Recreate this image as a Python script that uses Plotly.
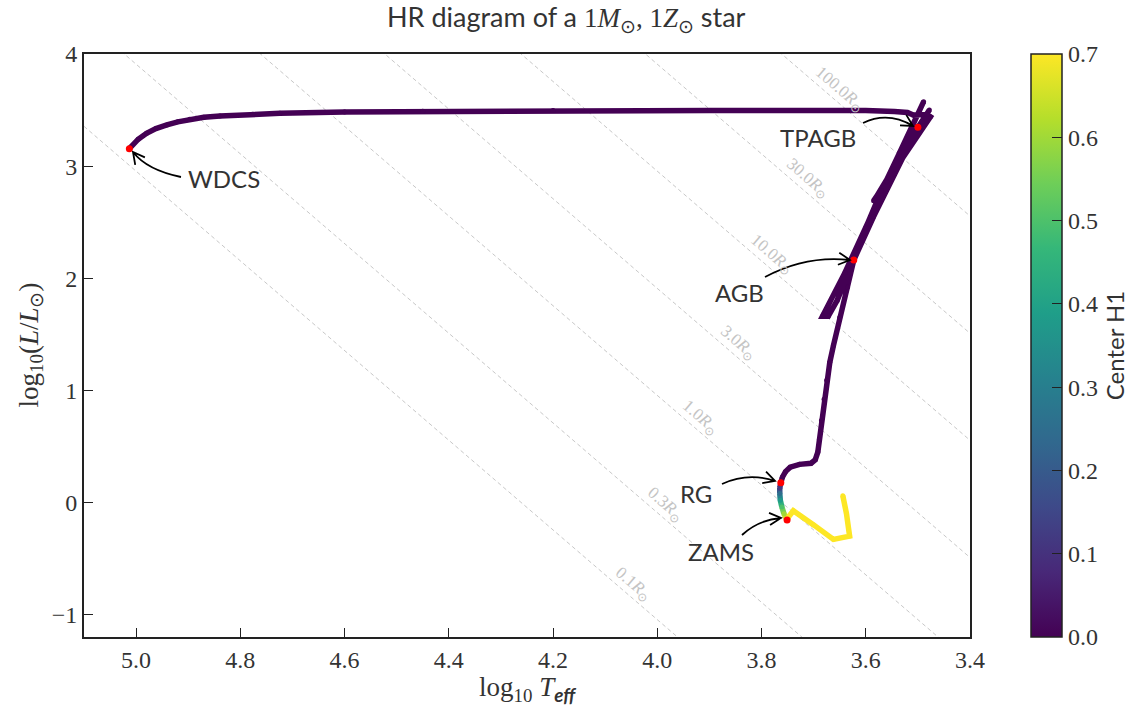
import numpy as np
import plotly.graph_objects as go
from plotly.colors import sample_colorscale

# ---------------- data ----------------
log_teff = [3.644, 3.637, 3.631, 3.662, 3.700, 3.739, 3.748, 3.751,
            3.757, 3.761, 3.764, 3.765, 3.765, 3.763,
            3.760, 3.754, 3.745, 3.727, 3.705, 3.697, 3.692, 3.689, 3.685, 3.680,
            3.675, 3.669, 3.662, 3.650, 3.635, 3.623, 3.600, 3.570, 3.535, 3.510, 3.489,
            3.560, 3.640, 3.683, 3.672, 3.655, 3.623, 3.585, 3.545, 3.500, 3.478,
            3.492, 3.583, 3.585, 3.476, 3.483, 3.509,
            3.520, 3.545, 3.600, 3.900, 4.200, 4.450, 4.600, 4.724, 4.776, 4.839,
            4.870, 4.897, 4.920, 4.941, 4.962, 4.980, 4.996, 5.013]
log_L = [0.060, -0.100, -0.300, -0.329, -0.200, -0.074, -0.127, -0.157,
         -0.100, -0.040, 0.020, 0.080, 0.130, 0.176,
         0.225, 0.275, 0.315, 0.340, 0.350, 0.380, 0.450, 0.560, 0.730, 0.920,
         1.090, 1.250, 1.400, 1.650, 1.920, 2.162, 2.450, 2.780, 3.120, 3.370, 3.575,
         2.860, 2.050, 1.660, 1.660, 1.800, 2.162, 2.550, 2.930, 3.346, 3.500,
         3.400, 2.700, 2.690, 3.440, 3.460, 3.455,
         3.478, 3.488, 3.496, 3.497, 3.495, 3.490, 3.482, 3.471, 3.463, 3.447,
         3.435, 3.417, 3.395, 3.367, 3.335, 3.293, 3.240, 3.155]
center_h1 = [0.70, 0.70, 0.70, 0.70, 0.70, 0.70, 0.70, 0.70,
             0.60, 0.50, 0.38, 0.25, 0.12, 0.03] + [0.0] * 55

key_names = ["ZAMS", "RG", "AGB", "TPAGB", "WDCS"]
key_teff = [3.751, 3.763, 3.623, 3.500, 5.013]
key_L = [-0.157, 0.176, 2.162, 3.346, 3.155]

radii = [0.1, 0.3, 1.0, 3.0, 10.0, 30.0, 100.0]
radius_label_teff = [4.046, 3.985, 3.918, 3.846, 3.781, 3.712, 3.650]
log_teff_sun = 3.7613

x_ticks = [5.0, 4.8, 4.6, 4.4, 4.2, 4.0, 3.8, 3.6, 3.4]
y_ticks = [-1, 0, 1, 2, 3, 4]
cb_ticks = [0.0, 0.1, 0.2, 0.3, 0.4, 0.5, 0.6, 0.7]

# ---------------- geometry ----------------
W, H = 1132, 711
PL, PR, PT, PB = 84, 970, 54, 637
X0, X1 = 5.1, 3.4
Y0, Y1 = -1.2, 4.0
CMAX = 0.7


def px2x(px):
    return X0 + (px - PL) / (PR - PL) * (X1 - X0)


def py2y(py):
    return Y1 - (py - PT) / (PB - PT) * (Y1 - Y0)


def pxp(px):
    return (px - PL) / (PR - PL)


def pyp(py):
    return (PB - py) / (PB - PT)


SANS = "Lato"
SERIF = "Liberation Serif"
TXT = "#333333"

fig = go.Figure()

# radius lines
for R in radii:
    xs = [X0, X1]
    ys = [2 * np.log10(R) + 4 * (x - log_teff_sun) for x in xs]
    fig.add_trace(go.Scatter(x=xs, y=ys, mode="lines",
                             line=dict(color="#c8c8c8", width=1, dash="4px,3px"),
                             hoverinfo="skip", showlegend=False))

# track line segments coloured by center H1
segs = []
for i in range(len(log_teff) - 1):
    h = 0.5 * (center_h1[i] + center_h1[i + 1])
    col = sample_colorscale("Viridis", [h / CMAX])[0]
    if segs and segs[-1][0] == col:
        segs[-1][1].append(i + 1)
    else:
        segs.append([col, [i, i + 1]])
for col, idx in segs:
    fig.add_trace(go.Scatter(x=[log_teff[j] for j in idx], y=[log_L[j] for j in idx],
                             mode="lines", line=dict(color=col, width=5.5),
                             hoverinfo="skip", showlegend=False))

# markers carrying the colour scale
fig.add_trace(go.Scatter(
    x=log_teff, y=log_L, mode="markers",
    marker=dict(size=5, color=center_h1, colorscale="Viridis", cmin=0, cmax=CMAX,
                showscale=True,
                colorbar=dict(
                    x=pxp(1031), xanchor="left", xref="paper", xpad=0, ypad=0,
                    y=0.5, yanchor="middle", len=1.0, lenmode="fraction",
                    thickness=31, outlinewidth=1.5, outlinecolor="#222",
                    ticks="inside", ticklen=10, tickwidth=1.2, tickcolor="#222",
                    tickvals=cb_ticks, ticktext=[f"{v:.1f}" for v in cb_ticks],
                    tickfont=dict(family=SERIF, size=24, color=TXT),
                    title=dict(text="Center H1", side="right",
                               font=dict(family=SANS, size=24, color=TXT)),
                )),
    hoverinfo="skip", showlegend=False))

# key points
fig.add_trace(go.Scatter(x=key_teff, y=key_L, mode="markers",
                         marker=dict(size=7, color="red"),
                         hoverinfo="skip", showlegend=False))

annotations = []
shapes = []

# radius labels
ang = float(np.degrees(np.arctan((4 * (PB - PT) / (Y1 - Y0)) / ((PR - PL) / (X0 - X1)))))
for R, xl in zip(radii, radius_label_teff):
    yl = 2 * np.log10(R) + 4 * (xl - log_teff_sun)
    annotations.append(dict(x=xl, y=yl, xref="x", yref="y", yshift=14, showarrow=False,
                            xanchor="center", yanchor="middle",
                            text=f"{R:.1f}<i>R</i><sub>⊙</sub>", textangle=ang,
                            font=dict(family=SERIF, size=17, color="#c4c4c4")))

# labelled arrows (pixel layout: text centre, start, control, tip)
arrow_layout = {
    "WDCS": ((224, 178), (181, 177), (147, 170), (133, 152)),
    "TPAGB": ((818, 137), (863, 123), (888, 111), (913, 126)),
    "AGB": ((739, 292), (765, 277), (806, 255), (850, 260)),
    "RG": ((696, 493), (722, 484), (748, 472), (775, 481)),
    "ZAMS": ((721, 551), (742, 535), (758, 520), (781, 518)),
}
for name in key_names:
    (tx, ty), (sx, sy), (cx, cy), (ex, ey) = arrow_layout[name]
    annotations.append(dict(x=px2x(tx), y=py2y(ty), xref="x", yref="y", showarrow=False,
                            xanchor="center", yanchor="middle",
                            text=name, font=dict(family=SANS, size=24, color=TXT)))
    dx, dy = ex - cx, ey - cy
    n = np.hypot(dx, dy)
    dx, dy = dx / n, dy / n
    L, th = 13, np.radians(28)
    h1 = (ex - L * (dx * np.cos(th) - dy * np.sin(th)), ey - L * (dx * np.sin(th) + dy * np.cos(th)))
    h2 = (ex - L * (dx * np.cos(th) + dy * np.sin(th)), ey - L * (-dx * np.sin(th) + dy * np.cos(th)))
    path = (f"M {px2x(sx):.5f},{py2y(sy):.5f} Q {px2x(cx):.5f},{py2y(cy):.5f} "
            f"{px2x(ex):.5f},{py2y(ey):.5f} M {px2x(h1[0]):.5f},{py2y(h1[1]):.5f} "
            f"L {px2x(ex):.5f},{py2y(ey):.5f} L {px2x(h2[0]):.5f},{py2y(h2[1]):.5f}")
    shapes.append(dict(type="path", path=path, xref="x", yref="y",
                       line=dict(color="black", width=1.8)))

# axis titles and title
annotations.append(dict(x=pxp(30), y=0.5, xref="paper", yref="paper",
                        xanchor="center", yanchor="middle",
                        showarrow=False, textangle=-90,
                        text="log<sub>10</sub>(<i>L</i>/<i>L</i><sub>⊙</sub>)",
                        font=dict(family=SERIF, size=27, color=TXT)))
annotations.append(dict(x=0.5, y=pyp(689), xref="paper", yref="paper",
                        xanchor="center", yanchor="middle",
                        showarrow=False,
                        text="log<sub>10</sub> <i>T</i><sub><span style='font-family:Lato'><b><i>eff</i></b></span></sub>",
                        font=dict(family=SERIF, size=27, color=TXT)))
annotations.append(dict(x=pxp(566), y=pyp(18), xref="paper", yref="paper",
                        xanchor="center", yanchor="middle",
                        showarrow=False,
                        text=("HR diagram of a <span style='font-family:Liberation Serif'>1<i>M</i><sub>⊙</sub>, "
                              "1<i>Z</i><sub>⊙</sub></span> star"),
                        font=dict(family=SANS, size=27, color=TXT)))

axis_common = dict(showgrid=False, zeroline=False, showline=True, linewidth=2,
                   linecolor="#222", mirror=True, ticks="inside", ticklen=9,
                   tickwidth=1.2, tickcolor="#222",
                   tickfont=dict(family=SERIF, size=24, color=TXT))

fig.update_layout(
    width=W, height=H, autosize=False,
    margin=dict(l=PL, r=W - PR, t=PT, b=H - PB, autoexpand=False),
    paper_bgcolor="white", plot_bgcolor="white",
    xaxis=dict(range=[X0, X1], tickvals=x_ticks, ticktext=[f"{v:.1f}" for v in x_ticks],
               **axis_common),
    yaxis=dict(range=[Y0, Y1], tickvals=y_ticks,
               ticktext=[str(v).replace("-", "−") for v in y_ticks], **axis_common),
    annotations=annotations, shapes=shapes, showlegend=False,
)

fig.write_html("out.html")
